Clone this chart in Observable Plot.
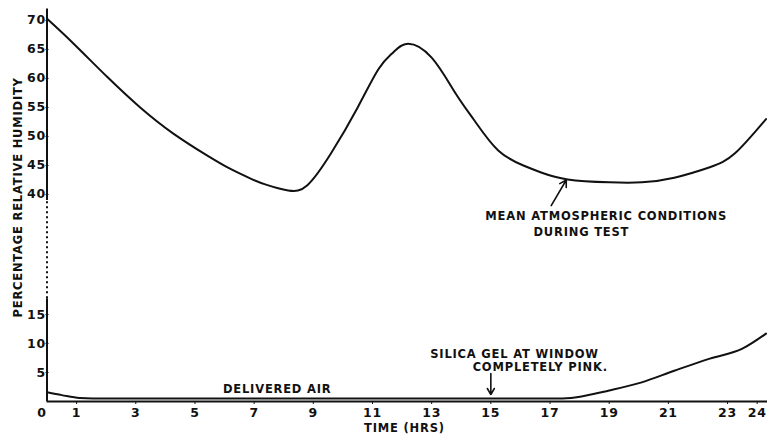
<!DOCTYPE html>
<html><head><meta charset="utf-8">
<script src="https://cdn.jsdelivr.net/npm/d3@7"></script>
<script src="https://cdn.jsdelivr.net/npm/@observablehq/plot@0.6"></script>
<style>html,body{margin:0;padding:0;background:#fff}</style>
</head><body><div id="chart"></div>
<script>
// Mean atmospheric conditions during test (upper curve)
const atmosHours = [0, 0.9, 2.05, 3.15, 4.27, 5.42, 6.2, 6.9, 7.4, 8.15, 8.8, 9.6, 10.5, 11.2, 11.7, 12.2, 13.0, 13.8, 14.44, 15.25, 16.1, 16.7, 17.6, 19.0, 20.1, 21.2, 22.4, 23.25, 24.3];
const atmosRH    = [70.3, 66.0, 60.2, 55.0, 50.5, 46.7, 44.4, 42.7, 41.7, 40.7, 41.6, 47.1, 55.0, 61.6, 64.5, 66.0, 63.6, 57.5, 52.8, 47.6, 45.0, 43.8, 42.6, 42.1, 42.1, 42.9, 44.7, 47.1, 53.0];

// Delivered air (lower curve)
const airHours = [0, 0.5, 1.1, 2, 5, 9, 13, 17.3, 17.9, 19.0, 20.1, 21.2, 22.4, 23.5, 24.3];
const airRH    = [1.6, 1.1, 0.6, 0.5, 0.5, 0.5, 0.5, 0.5, 0.75, 1.9, 3.3, 5.3, 7.4, 9.1, 11.7];

// Axis ticks
const xTicks = [1, 3, 5, 7, 9, 11, 13, 15, 17, 19, 21, 23, 24];
const xCorner = [0];
const yTicks = [5, 10, 15, 40, 45, 50, 55, 60, 65, 70];
const yBreak = [15, 40];        // the broken part of the y axis
const yBreakDotted = [18.3, 38.75];

// Annotations (hours, % RH)
const noteText  = ["MEAN ATMOSPHERIC CONDITIONS", "DURING TEST", "SILICA GEL AT WINDOW", "COMPLETELY PINK.", "DELIVERED AIR"];
const noteHours = [18.9, 18.06, 15.8, 16.67, 7.78];
const noteRH    = [35.4, 32.1, 8.2, 5.9, 2.07];

const arrowFromHours = [17.04, 15];
const arrowFromRH    = [37.7, 4.8];
const arrowToHours   = [17.55, 15];
const arrowToRH      = [42.5, 1.2];

const xLabel = "TIME (HRS)";
const yLabel = "PERCENTAGE RELATIVE HUMIDITY";

const ink = "#111";
const xMax = 24.35, yMax = 72;
// broken axis: the 15–40 span is drawn compressed
const squeeze = 0.8276;
const yBreakScale = v => v <= yBreak[0] ? v
  : v >= yBreak[1] ? v - (yBreak[1] - yBreak[0]) * (1 - squeeze)
  : yBreak[0] + (v - yBreak[0]) * squeeze;

const atmos = atmosHours.map((h, i) => ({h, rh: atmosRH[i]}));
const air = airHours.map((h, i) => ({h, rh: airRH[i]}));
const notes = noteText.map((t, i) => ({t, h: noteHours[i], rh: noteRH[i]}));
const arrows = arrowFromHours.map((h, i) => ({x1: h, y1: arrowFromRH[i], x2: arrowToHours[i], y2: arrowToRH[i]}));

const chart = Plot.plot({
  width: 767,
  height: 436,
  marginTop: 8.4, marginRight: 0, marginBottom: 35, marginLeft: 46.5,
  style: {fontFamily: "'DejaVu Sans', sans-serif", fontSize: "11.5px", fontWeight: "bold", letterSpacing: "0.8px", color: ink, background: "#fff"},
  x: {domain: [0, xMax]},
  y: {transform: yBreakScale, domain: [0, yBreakScale(yMax)]},
  marks: [
    Plot.ruleY([0], {x1: 0, x2: xMax, stroke: ink, strokeWidth: 2}),
    Plot.ruleX([0], {y1: 0, y2: yBreakDotted[0], stroke: ink, strokeWidth: 2}),
    Plot.ruleX([0], {y1: yBreakDotted[0], y2: yBreakDotted[1], stroke: ink, strokeWidth: 2, strokeDasharray: "2,3"}),
    Plot.ruleX([0], {y1: yBreakDotted[1], y2: yMax, stroke: ink, strokeWidth: 2}),
    Plot.axisX(xTicks, {tickSize: 3, tickPadding: 4, label: null, stroke: ink, fill: ink, fontSize: 12.5}),
    Plot.axisX(xCorner, {tickSize: 0, tickPadding: 7, dx: -5, label: null, fill: ink, fontSize: 12.5}),
    Plot.axisY(yTicks, {tickSize: 3, tickPadding: 0, dx: 2, label: null, stroke: ink, fill: ink, fontSize: 12.5}),
    Plot.line(atmos, {x: "h", y: "rh", curve: "natural", stroke: ink, strokeWidth: 2}),
    Plot.line(air, {x: "h", y: "rh", curve: "monotone-x", stroke: ink, strokeWidth: 2}),
    Plot.arrow(arrows, {x1: "x1", y1: "y1", x2: "x2", y2: "y2", stroke: ink, strokeWidth: 1.6, headLength: 7}),
    Plot.text(notes, {x: "h", y: "rh", text: "t", fill: ink}),
    Plot.text([xLabel], {x: 12.08, y: -4.6, text: d => d, fill: ink}),
    Plot.text([yLabel], {x: -0.96, y: 39.4, text: d => d, rotate: -90, fill: ink})
  ]
});
document.getElementById("chart").appendChild(chart);
</script>
</body></html>
